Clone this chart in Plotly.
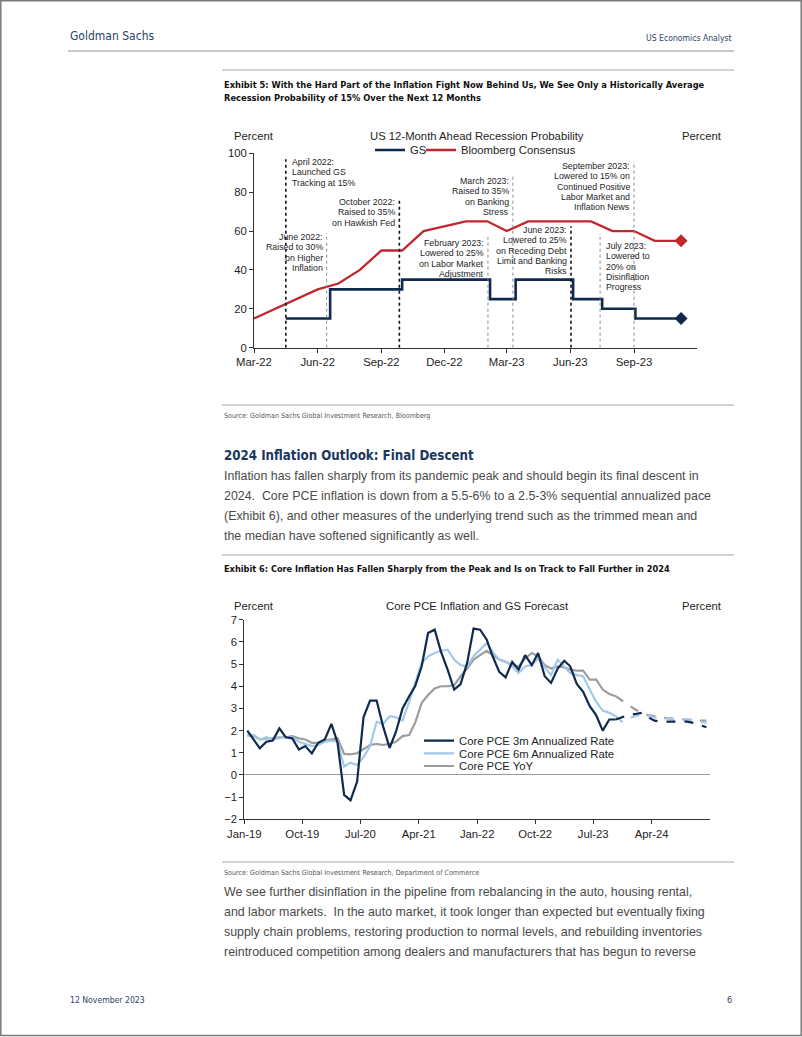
import plotly.graph_objects as go
import pandas as pd

# ---------------- DATA ----------------
# Exhibit 5: US 12-month ahead recession probability (%)
gs_dates = ["2022-04-16", "2022-06-19", "2022-10-01", "2023-02-05", "2023-03-14",
            "2023-06-05", "2023-07-17", "2023-09-03", "2023-11-08"]
gs_vals = [15, 30, 35, 25, 35, 25, 20, 15, 15]

bbg_dates = ["2022-03-01", "2022-04-01", "2022-05-01", "2022-06-01", "2022-07-01",
             "2022-08-01", "2022-09-01", "2022-10-01", "2022-11-01", "2022-12-01",
             "2023-01-01", "2023-02-01", "2023-03-01", "2023-04-01", "2023-05-01",
             "2023-06-01", "2023-07-01", "2023-08-01", "2023-09-01", "2023-10-01",
             "2023-11-08"]
bbg_vals = [15, 20, 25, 30, 33, 40, 50, 50, 60, 62.5, 65, 65, 60, 65, 65, 65, 65, 60, 60, 55, 55]

c1_tickvals = ["2022-03-01", "2022-06-01", "2022-09-01", "2022-12-01",
               "2023-03-01", "2023-06-01", "2023-09-01"]
c1_ticktext = ["Mar-22", "Jun-22", "Sep-22", "Dec-22", "Mar-23", "Jun-23", "Sep-23"]

event_dates = ["2022-04-16", "2022-06-14", "2022-09-27", "2023-02-02",
               "2023-03-10", "2023-06-02", "2023-07-14", "2023-09-01"]
event_labels = [
    ["April 2022:", "Launched GS", "Tracking at 15%"],
    ["June 2022:", "Raised to 30%", "on Higher", "Inflation"],
    ["October 2022:", "Raised to 35%", "on Hawkish Fed"],
    ["February 2023:", "Lowered to 25%", "on Labor Market", "Adjustment"],
    ["March 2023:", "Raised to 35%", "on Banking", "Stress"],
    ["June 2023:", "Lowered to 25%", "on Receding Debt", "Limit and Banking", "Risks"],
    ["July 2023:", "Lowered to", "20% on", "Disinflation", "Progress"],
    ["September 2023:", "Lowered to 15% on", "Continued Positive", "Labor Market and", "Inflation News"],
]

# Exhibit 6: Core PCE inflation (%), monthly from Jan-2019
pce_start = "2019-01"
core3m = [2.0, 1.6, 1.2, 1.5, 1.55, 2.1, 1.7, 1.65, 1.15, 1.3, 0.97, 1.45,
          1.6, 2.3, 1.45, -0.9, -1.15, -0.3, 2.6, 3.35, 3.35, 2.2, 1.22, 1.95,
          3.0, 3.55, 4.0, 4.9, 6.4, 6.55, 5.55, 4.75, 3.85, 4.1, 5.05, 6.6,
          6.55, 6.1, 5.35, 4.65, 4.4, 5.1, 4.75, 5.4, 4.95, 5.5, 4.45, 4.15,
          4.8, 5.15, 4.9, 4.1, 3.75, 3.1, 2.7, 2.0, 2.5, 2.5]
core6m = [1.75, 1.8, 1.6, 1.7, 1.6, 1.65, 1.7, 1.7, 1.5, 1.4, 1.3, 1.35,
          1.5, 1.55, 1.5, 0.38, 0.55, 0.45, 0.8, 1.3, 2.4, 2.3, 2.65, 2.6,
          2.45, 3.3, 4.1, 5.05, 5.35, 5.5, 5.6, 5.65, 5.2, 4.95, 4.9, 5.35,
          5.65, 5.95, 5.55, 5.2, 5.1, 4.9, 4.6, 4.9, 4.95, 5.25, 4.85, 4.5,
          5.2, 4.9, 4.6, 4.5, 4.45, 3.85, 3.3, 2.9, 2.8, 2.65]
coreyoy = [1.8, 1.75, 1.6, 1.65, 1.65, 1.7, 1.7, 1.75, 1.65, 1.6, 1.45, 1.45,
           1.55, 1.6, 1.65, 0.95, 0.93, 0.98, 1.15, 1.35, 1.4, 1.35, 1.4, 1.5,
           1.75, 1.8, 2.35, 3.25, 3.6, 3.9, 4.0, 4.0, 4.05, 4.45, 4.8, 5.2,
           5.4, 5.6, 5.4, 5.2, 5.1, 4.95, 4.9, 5.25, 5.5, 5.35, 4.95, 4.8,
           4.9, 4.85, 4.75, 4.7, 4.7, 4.3, 4.3, 3.85, 3.65, 3.55]
# GS forecast (dashed), starting at the last actual month
fc_start = "2023-10"
core3m_fc = [2.5, 2.6, 2.7, 2.75, 2.8, 2.6, 2.45, 2.4, 2.4, 2.4, 2.4, 2.4, 2.35, 2.25, 2.15]
core6m_fc = [2.65, 2.4, 2.55, 2.65, 2.75, 2.65, 2.6, 2.55, 2.55, 2.5, 2.5, 2.5, 2.45, 2.4, 2.35]
coreyoy_fc = [3.55, 3.35, 3.15, 2.95, 2.8, 2.7, 2.65, 2.6, 2.55, 2.55, 2.5, 2.5, 2.5, 2.45, 2.45]

c2_tickvals = ["2019-01-01", "2019-10-01", "2020-07-01", "2021-04-01",
               "2022-01-01", "2022-10-01", "2023-07-01", "2024-04-01"]
c2_ticktext = ["Jan-19", "Oct-19", "Jul-20", "Apr-21", "Jan-22", "Oct-22", "Jul-23", "Apr-24"]

# ---------------- LAYOUT HELPERS ----------------
W, H = 802, 1037


def px(x):
    return x / W


def py(y):
    return 1 - y / H


NAVY = "#0f2a4e"
RED = "#c1272d"
LBLUE = "#a3c9ea"
GRAY = "#9d9d9d"
TXT = "#1e1e1e"
CHART_FONT = "Liberation Sans, Arial, sans-serif"
COND_FONT = "DejaVu Sans Condensed, Liberation Sans Narrow, Arial Narrow, sans-serif"


def mid_month(start, n):
    return pd.date_range(start=start, periods=n, freq="MS") + pd.Timedelta(days=14)


fig = go.Figure()

# ---- Chart 1 traces ----
fig.add_trace(go.Scatter(x=gs_dates, y=gs_vals, mode="lines", line_shape="hv",
                         line=dict(color=NAVY, width=2.6), name="GS",
                         xaxis="x", yaxis="y", legend="legend"))
fig.add_trace(go.Scatter(x=gs_dates[-1:], y=gs_vals[-1:], mode="markers",
                         marker=dict(symbol="diamond", size=10, color=NAVY),
                         showlegend=False, xaxis="x", yaxis="y"))
fig.add_trace(go.Scatter(x=bbg_dates, y=bbg_vals, mode="lines",
                         line=dict(color=RED, width=2.3), name="Bloomberg Consensus",
                         xaxis="x", yaxis="y", legend="legend2"))
fig.add_trace(go.Scatter(x=bbg_dates[-1:], y=bbg_vals[-1:], mode="markers",
                         marker=dict(symbol="diamond", size=10, color=RED),
                         showlegend=False, xaxis="x", yaxis="y"))

# ---- Chart 2 traces ----
d_act = mid_month(pce_start, len(core3m))
d_fc = mid_month(fc_start, len(core3m_fc))
series = [
    (coreyoy, coreyoy_fc, GRAY, "Core PCE YoY", "legend5"),
    (core6m, core6m_fc, LBLUE, "Core PCE 6m Annualized Rate", "legend4"),
    (core3m, core3m_fc, NAVY, "Core PCE 3m Annualized Rate", "legend3"),
]
for act, fc, col, name, lg in series:
    fig.add_trace(go.Scatter(x=d_fc, y=fc, mode="lines",
                             line=dict(color=col, width=2.2, dash="dash"),
                             showlegend=False, xaxis="x2", yaxis="y2"))
for act, fc, col, name, lg in series:
    fig.add_trace(go.Scatter(x=d_act, y=act, mode="lines", name=name,
                             line=dict(color=col, width=2.2),
                             xaxis="x2", yaxis="y2", legend=lg))

# ---- Axes ----
tickfont = dict(family=CHART_FONT, size=11.3, color=TXT)
c1_dom_x = [px(254), px(697)]
c1_dom_y = [py(347.7), py(153.3)]
c2_dom_x = [px(244.3), px(710)]
c2_dom_y = [py(819.3), py(619.7)]

fig.update_layout(
    xaxis=dict(domain=c1_dom_x, anchor="y", type="date",
               range=["2022-03-01", "2023-12-01"], tickvals=c1_tickvals, ticktext=c1_ticktext,
               showline=True, linecolor="#333", linewidth=1, ticks="outside", ticklen=4,
               tickcolor="#333", showgrid=False, zeroline=False, tickfont=tickfont),
    yaxis=dict(domain=c1_dom_y, anchor="x", range=[0, 100], dtick=20,
               showline=True, linecolor="#333", linewidth=1, ticks="outside", ticklen=4,
               tickcolor="#333", showgrid=False, zeroline=False, tickfont=tickfont),
    yaxis3=dict(overlaying="y", side="right", anchor="x", range=[0, 100], dtick=20,
                showline=True, linecolor="#9a9a9a", linewidth=1.5, ticks="outside", ticklen=4,
                tickcolor="#9a9a9a", showgrid=False, zeroline=False, tickfont=tickfont),
    xaxis2=dict(domain=c2_dom_x, anchor="y2", type="date",
                range=["2019-01-01", "2025-01-01"], tickvals=c2_tickvals, ticktext=c2_ticktext,
                showline=True, linecolor="#333", linewidth=1, ticks="outside", ticklen=4,
                tickcolor="#333", showgrid=False, zeroline=False, tickfont=tickfont),
    yaxis2=dict(domain=c2_dom_y, anchor="x2", range=[-2, 7], dtick=1,
                showline=True, linecolor="#333", linewidth=1, ticks="outside", ticklen=4,
                tickcolor="#333", showgrid=False, zeroline=True, zerolinecolor="#9a9a9a",
                zerolinewidth=1, tickfont=tickfont),
    yaxis4=dict(overlaying="y2", side="right", anchor="x2", range=[-2, 7], dtick=1,
                showline=True, linecolor="#9a9a9a", linewidth=1.5, ticks="outside", ticklen=4,
                tickcolor="#9a9a9a", showgrid=False, zeroline=False, tickfont=tickfont),
)

legfont = dict(family=CHART_FONT, size=11.3, color=TXT)
leg_common = dict(bgcolor="rgba(0,0,0,0)", borderwidth=0, font=legfont,
                  xanchor="left", yanchor="middle", orientation="h", itemwidth=30)
fig.update_layout(
    legend=dict(x=px(370), y=py(150), **leg_common),
    legend2=dict(x=px(421), y=py(150), **leg_common),
    legend3=dict(x=px(419), y=py(740.7), **leg_common),
    legend4=dict(x=px(419), y=py(753.3), **leg_common),
    legend5=dict(x=px(419), y=py(766), **leg_common),
)

shapes = []
annotations = []


def page_text(x, y, text, size, color, family=CHART_FONT, anchor="left", bold=False):
    if bold:
        text = "<b>" + text + "</b>"
    annotations.append(dict(x=px(x), y=py(y), xref="paper", yref="paper", text=text,
                            showarrow=False, xanchor=anchor, yanchor="middle",
                            font=dict(family=family, size=size, color=color)))


def rule(x0, x1, y, color="#c4c4c4", width=1.5):
    shapes.append(dict(type="line", xref="paper", yref="paper", x0=px(x0), x1=px(x1),
                       y0=py(y), y1=py(y), line=dict(color=color, width=width)))


# Page border
shapes.append(dict(type="rect", xref="paper", yref="paper", x0=px(0.8), x1=px(801.2),
                   y0=py(1035.5), y1=py(0.8), line=dict(color="#7a7a7a", width=1.5)))

# Header / footer
page_text(68, 36, "Goldman Sachs", 12, "#2b4468", COND_FONT)
page_text(734, 38.5, "US Economics Analyst", 8.6, "#2b4468", COND_FONT, anchor="right")
rule(68, 734, 51, color="#c9c9c9", width=2)
page_text(68, 1000, "12 November 2023", 8.6, "#2b4468", COND_FONT)
page_text(734, 1000, "6", 9, "#2b4468", COND_FONT, anchor="right")

# Exhibit 5 header
rule(222, 734, 70)
page_text(222, 84, "Exhibit 5: With the Hard Part of the Inflation Fight Now Behind Us, We See Only a Historically Average",
          9.25, "#111", COND_FONT, bold=True)
page_text(222, 98, "Recession Probability of 15% Over the Next 12 Months", 9.25, "#111", COND_FONT, bold=True)

# Chart 1 titles
page_text(477, 136, "US 12-Month Ahead Recession Probability", 11.3, TXT, anchor="center")
page_text(232, 136, "Percent", 11.3, TXT)
page_text(724, 136, "Percent", 11.3, TXT, anchor="right")

# Event lines + labels (chart 1)
event_style = [  # (line top value, text side, first-line y in page px, emphasised)
    (97, "right", 162, True),
    (59, "left", 237, False),
    (77, "left", 202, True),
    (57, "left", 243, False),
    (88, "left", 181, False),
    (62.5, "left", 230, True),
    (59, "right", 246, False),
    (96, "left", 166, False),
]
for d, lines, (top, side, y0, emph) in zip(event_dates, event_labels, event_style):
    shapes.append(dict(type="line", xref="x", yref="y", x0=d, x1=d, y0=0, y1=top,
                       line=dict(color="#111" if emph else "#8a8a8a",
                                 width=1.6 if emph else 1, dash="dot"),
                       layer="above"))
    for i, t in enumerate(lines):
        annotations.append(dict(x=d, y=py(y0 + i * 10.3), xref="x", yref="paper", text=t,
                                showarrow=False,
                                xanchor="right" if side == "left" else "left",
                                xshift=-2 if side == "left" else 4,
                                yanchor="middle", align="right" if side == "left" else "left",
                                font=dict(family=CHART_FONT, size=8.8, color=TXT)))

# Source + section text
rule(222, 734, 405)
page_text(222, 415, "Source: Goldman Sachs Global Investment Research, Bloomberg", 7.1, "#555", COND_FONT)
page_text(222, 455, "2024 Inflation Outlook: Final Descent", 13.2, "#1b375e", COND_FONT, bold=True)
para1 = ["Inflation has fallen sharply from its pandemic peak and should begin its final descent in",
         "2024.&nbsp; Core PCE inflation is down from a 5.5-6% to a 2.5-3% sequential annualized pace",
         "(Exhibit 6), and other measures of the underlying trend such as the trimmed mean and",
         "the median have softened significantly as well."]
for i, t in enumerate(para1):
    page_text(222, 476 + i * 20, t, 12.4, "#4a4a4a")

rule(222, 734, 555)
page_text(222, 569, "Exhibit 6: Core Inflation Has Fallen Sharply from the Peak and Is on Track to Fall Further in 2024",
          9.15, "#111", COND_FONT, bold=True)

# Chart 2 titles
page_text(477.3, 605.5, "Core PCE Inflation and GS Forecast", 11.3, TXT, anchor="center")
page_text(232, 605.5, "Percent", 11.3, TXT)
page_text(724, 605.5, "Percent", 11.3, TXT, anchor="right")

rule(222, 734, 862)
page_text(222, 872, "Source: Goldman Sachs Global Investment Research, Department of Commerce", 7.1, "#555", COND_FONT)
para2 = ["We see further disinflation in the pipeline from rebalancing in the auto, housing rental,",
         "and labor markets.&nbsp; In the auto market, it took longer than expected but eventually fixing",
         "supply chain problems, restoring production to normal levels, and rebuilding inventories",
         "reintroduced competition among dealers and manufacturers that has begun to reverse"]
for i, t in enumerate(para2):
    page_text(222, 892 + i * 20, t, 12.4, "#4a4a4a")

fig.update_layout(
    width=W, height=H, autosize=False,
    margin=dict(l=0, r=0, t=0, b=0, pad=0, autoexpand=False),
    paper_bgcolor="white", plot_bgcolor="white",
    shapes=shapes, annotations=annotations,
    font=dict(family=CHART_FONT, color=TXT),
)

fig.write_html("out.html", config={"displayModeBar": False},
               post_script="document.body.style.margin='0';document.body.style.overflow='hidden';")
